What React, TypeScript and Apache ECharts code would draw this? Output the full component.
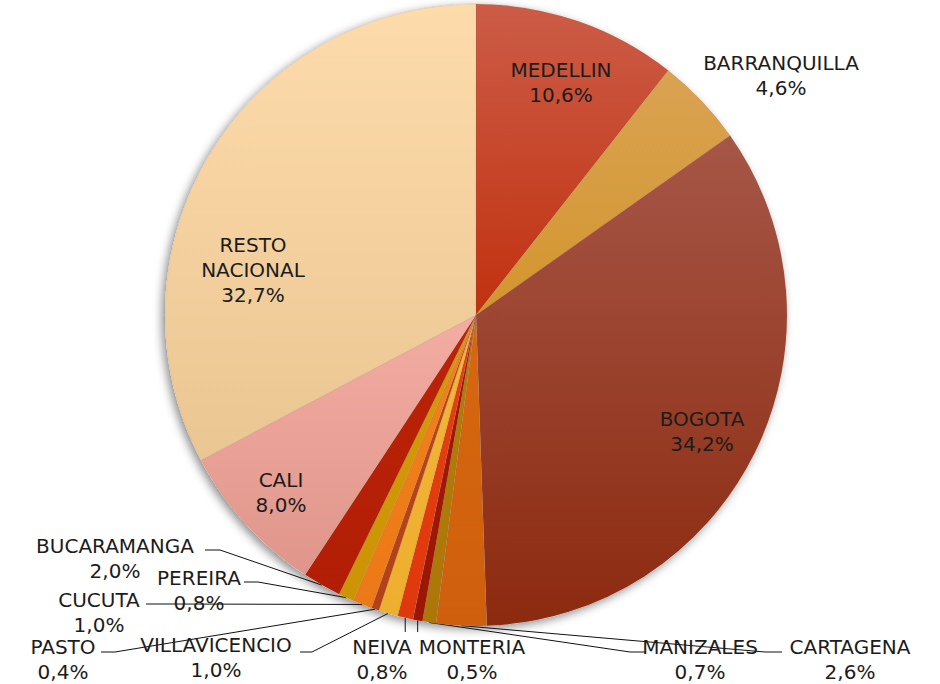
import React, { useEffect, useRef } from 'react';
import * as echarts from 'echarts';

const categories = [
  'MEDELLIN', 'BARRANQUILLA', 'BOGOTA', 'CARTAGENA', 'MANIZALES', 'MONTERIA', 'NEIVA',
  'VILLAVICENCIO', 'PASTO', 'CUCUTA', 'PEREIRA', 'BUCARAMANGA', 'CALI', 'RESTO NACIONAL',
];
const shares = [10.6, 4.6, 34.2, 2.6, 0.7, 0.5, 0.8, 1.0, 0.4, 1.0, 0.8, 2.0, 8.0, 32.7];

const topColors = [
  '#CC5C47', '#DAA352', '#A65647', '#D7680F', '#B27E08', '#A21A05', '#E6400F',
  '#F3B63A', '#BA4619', '#F2811B', '#D39C06', '#BA2408', '#F4ADA3', '#FEDBAB',
];
const bottomColors = [
  '#C1310F', '#D3952D', '#8C2A0F', '#CF5F0D', '#AC7707', '#9C1604', '#E0380D',
  '#EEAE2E', '#B44016', '#EC7917', '#CC9404', '#B21E05', '#DF958A', '#EAC692',
];

const insideLabels = ['MEDELLIN', 'BOGOTA', 'CALI', 'RESTO NACIONAL'];
const noLineLabels = ['BARRANQUILLA'];

// label placement: x = text centre, y = text top; knee / end = leader line points
type Place = { x: number; y: number; knee?: number[]; end?: number[]; vertical?: number };
const placement: Record<string, Place> = {
  MEDELLIN: { x: 561, y: 57.5 },
  BARRANQUILLA: { x: 781, y: 50.5 },
  BOGOTA: { x: 702, y: 406.5 },
  'RESTO NACIONAL': { x: 253, y: 232.5 },
  CALI: { x: 281, y: 467.5 },
  BUCARAMANGA: { x: 115, y: 533.5, knee: [220, 550], end: [205, 550] },
  PEREIRA: { x: 199, y: 565.5, knee: [258, 582], end: [244, 582] },
  CUCUTA: { x: 99, y: 587.5, knee: [170, 604], end: [146, 604] },
  PASTO: { x: 63, y: 634, knee: [115, 652], end: [101, 652] },
  VILLAVICENCIO: { x: 216, y: 632.5, knee: [312, 652], end: [300, 652] },
  NEIVA: { x: 382, y: 634, vertical: 632 },
  MONTERIA: { x: 472, y: 634, vertical: 632 },
  MANIZALES: { x: 700, y: 634, knee: [630, 652], end: [645, 652] },
  CARTAGENA: { x: 850, y: 634, knee: [765, 652], end: [782, 652] },
};

const fmt = (name: string, v: number) =>
  name.replace(' ', '\n') + '\n' + v.toFixed(1).replace('.', ',') + '%';

export default function App() {
  const ref = useRef<HTMLDivElement>(null);
  useEffect(() => {
    if (!ref.current) return;
    const chart = echarts.init(ref.current, undefined, { renderer: 'svg' });
    const center = [476, 315];
    const radius = 311;
    const data = categories.map((name, i) => {
      const inside = insideLabels.includes(name);
      return {
        name,
        value: shares[i],
        itemStyle: {
          color: new echarts.graphic.LinearGradient(0, 0, 0, 1, [
            { offset: 0, color: topColors[i] },
            { offset: 1, color: bottomColors[i] },
          ]),
        },
        label: { position: inside ? 'inside' : 'outside' },
        labelLine: { show: !inside && !noLineLabels.includes(name) },
      };
    });
    chart.setOption({
      animation: false,
      backgroundColor: '#ffffff',
      series: [
        {
          type: 'pie',
          silent: true,
          z: 1,
          center,
          radius,
          data: [{ value: 1, name: '' }],
          itemStyle: {
            color: '#ffffff',
            shadowBlur: 10,
            shadowColor: 'rgba(0,0,0,0.45)',
            shadowOffsetX: -3,
            shadowOffsetY: 3,
          },
          label: { show: false },
          labelLine: { show: false },
        },
        {
          type: 'pie',
          z: 2,
          center,
          radius,
          startAngle: 90,
          clockwise: true,
          avoidLabelOverlap: false,
          data,
          itemStyle: { borderWidth: 0.5, borderColor: 'rgba(140,110,90,0.35)' },
          label: {
            show: true,
            formatter: (p: any) => fmt(p.name, p.value),
            fontFamily: 'DejaVu Sans',
            fontSize: 20,
            lineHeight: 25,
            color: '#1c1c1c',
            align: 'center',
          },
          labelLine: {
            show: true,
            lineStyle: { color: '#111111', width: 1 },
          },
          labelLayout: (p: any) => {
            if (p.seriesIndex !== 1) return {};
            const name = categories[p.dataIndex];
            const pl = placement[name];
            if (!pl) return {};
            const out: any = { x: pl.x, y: pl.y, align: 'center', verticalAlign: 'top' };
            const pts = p.labelLinePoints;
            if (pts && pts.length) {
              const s = pts[0];
              if (pl.vertical !== undefined) {
                out.labelLinePoints = [s, [s[0], (s[1] + pl.vertical) / 2], [s[0], pl.vertical]];
              } else if (pl.knee && pl.end) {
                out.labelLinePoints = [s, pl.knee, pl.end];
              }
            }
            return out;
          },
        },
      ],
    });
    return () => chart.dispose();
  }, []);
  return (
    <div
      ref={ref}
      style={{ position: 'absolute', left: 0, top: 0, width: 940, height: 684 }}
    />
  );
}
